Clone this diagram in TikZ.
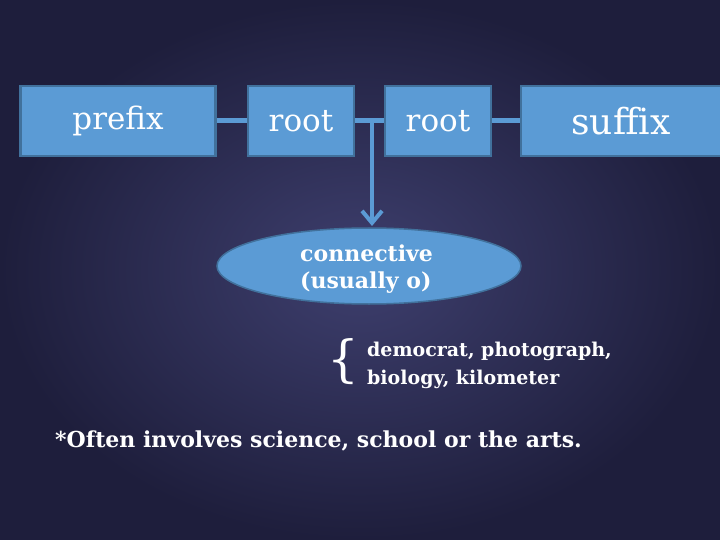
\documentclass[tikz,border=0pt]{standalone}
\usepackage{fontspec}
\setmainfont{DejaVu Serif}
\usetikzlibrary{shapes.geometric,arrows.meta}
\definecolor{bx}{HTML}{5B9BD5}
\definecolor{bd}{HTML}{41719C}
\definecolor{bgin}{HTML}{3E3F6E}
\definecolor{bgout}{HTML}{1E1E3C}
\begin{document}
\begin{tikzpicture}[x=1pt,y=-1pt,
  wbox/.style={draw=bd,line width=2.5pt,fill=bx,minimum height=70pt,text=white,font=\fontsize{31}{34}\selectfont,inner sep=0pt},
  link/.style={draw=bx,line width=5pt},
  wt/.style={text=white,font=\bfseries\fontsize{22}{27}\selectfont,align=left}]
\shade[inner color=bgin,outer color=bgout] (0,0) rectangle (720,540);
\useasboundingbox (0,0) rectangle (720,540);
\node[wbox,minimum width=195pt] (p) at (118,121) {prefix};
\node[wbox,minimum width=106pt] (r1) at (301,121) {root};
\node[wbox,minimum width=106pt] (r2) at (438,121) {root};
\node[wbox,minimum width=200pt,font=\fontsize{36}{40}\selectfont] (s) at (621,121) {suffix};
\draw[link] (p) -- (r1);
\draw[link] (r1) -- (r2);
\draw[link] (r2) -- (s);
\coordinate (j) at (372,121);
\node[ellipse,draw=bd,line width=1.5pt,fill=bx,minimum width=304pt,minimum height=76pt] (e) at (369,266) {};
\draw[draw=bx,line width=4pt,-{Straight Barb[length=12pt,width=20pt,line width=4pt]}] (j) -- (372,226);
\node[wt,anchor=west,inner sep=0pt] (et) at (300,269) {connective\\(usually o)};
\node[text=white,font=\fontsize{50}{52}\selectfont,anchor=east,inner sep=0pt] (br) at (360,362) {\{};
\node[wt,anchor=west,inner sep=0pt,font=\bfseries\fontsize{19}{28}\selectfont] (ex) at (367,365) {democrat, photograph,\\biology, kilometer};
\node[wt,anchor=west,inner sep=0pt,font=\bfseries\fontsize{22}{26}\selectfont] (note) at (55,441) {*Often involves science, school or the arts.};
\end{tikzpicture}
\end{document}
